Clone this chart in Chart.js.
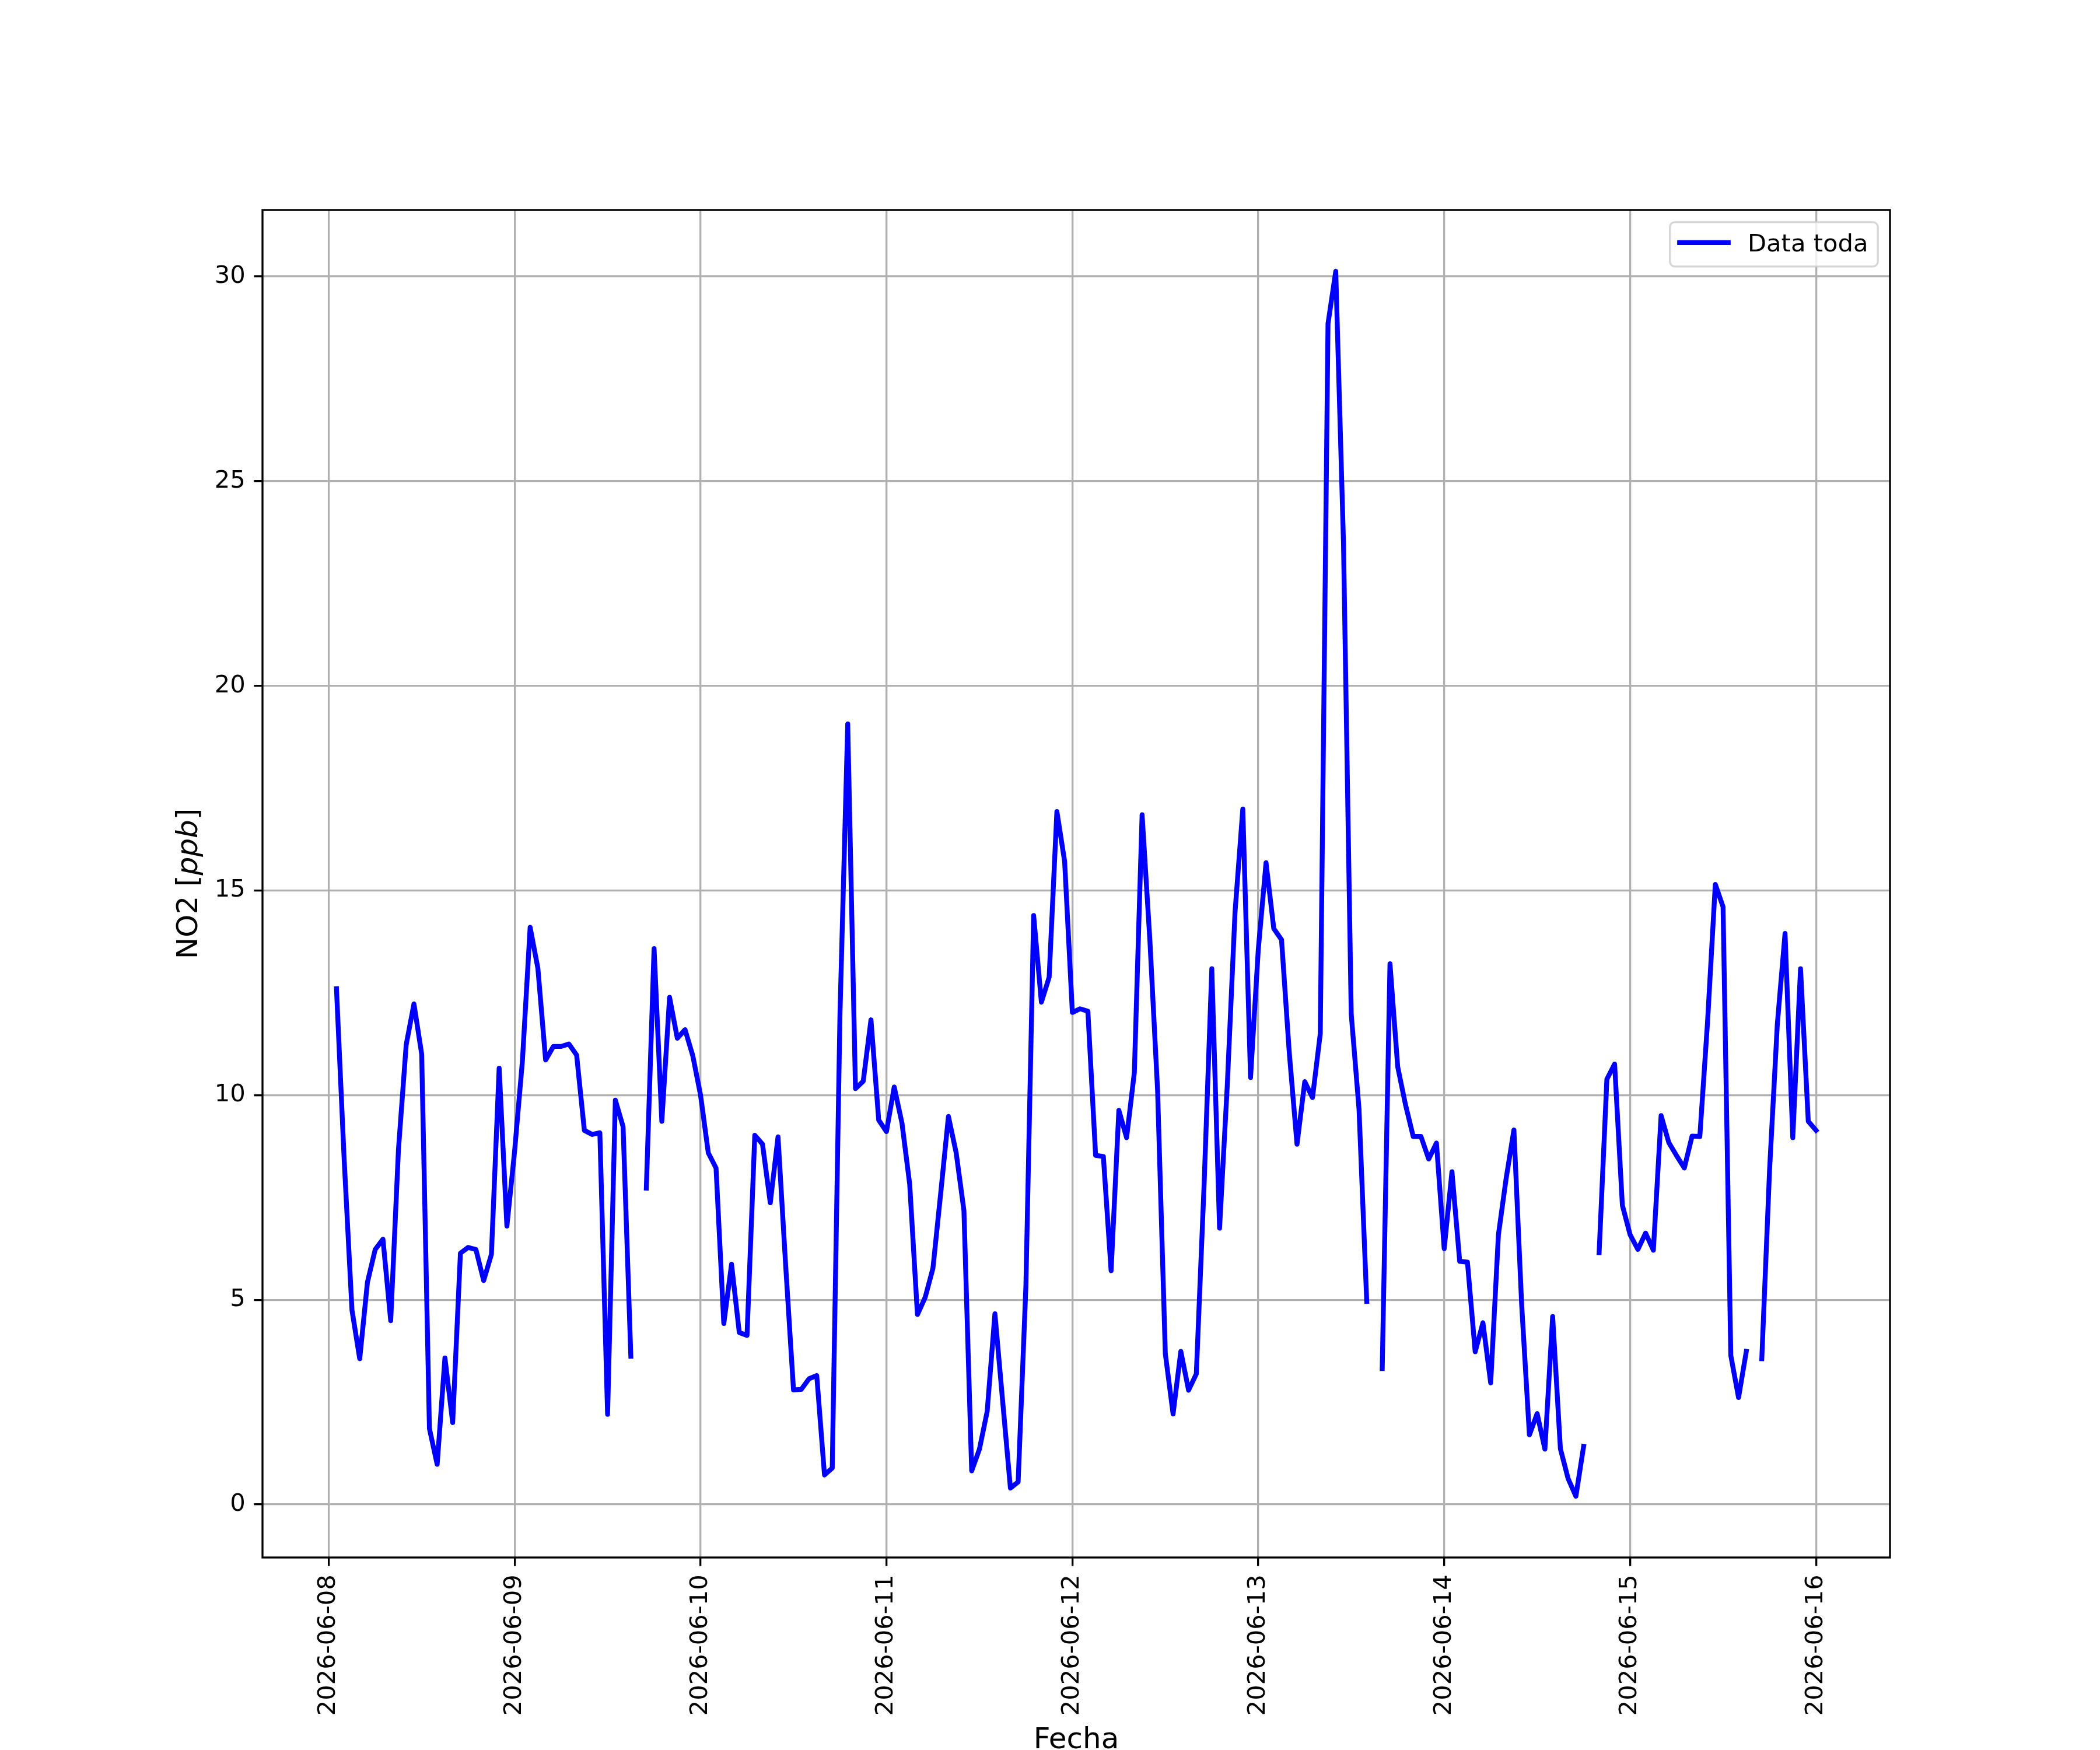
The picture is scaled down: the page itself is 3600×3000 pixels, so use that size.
<!DOCTYPE html>
<html>
<head>
<meta charset="utf-8">
<title>NO2</title>
<script src="https://cdn.jsdelivr.net/npm/chart.js@4.4.1/dist/chart.umd.min.js"></script>
<style>
    html, body { margin: 0; padding: 0; background: #ffffff; }
    canvas { display: block; }
</style>
</head>
<body>
<canvas id="no2Chart" width="3600" height="3000"></canvas>
<script>
// Etiquetas de los dias (una por tick del eje x, cada 24 h)
const dayLabels = ["2026-06-08", "2026-06-09", "2026-06-10", "2026-06-11", "2026-06-12",
                   "2026-06-13", "2026-06-14", "2026-06-15", "2026-06-16"];
const yTicks = [0, 5, 10, 15, 20, 25, 30];

// Primera medicion: 2026-06-08 01:00 (horas desde 2026-06-08 00:00)
const firstHour = 1;

// NO2 horario [ppb], null = sin dato
const day08 = [12.6, 8.4, 4.75, 3.56, 5.43, 6.23, 6.48, 4.49, 8.67, 11.23, 12.23, 11.0,
               1.85, 0.98, 3.58, 2.0, 6.14, 6.28, 6.23, 5.47, 6.11, 10.66, 6.8];
const day09 = [8.64, 10.83, 14.1, 13.1, 10.86, 11.19, 11.19, 11.25, 10.98, 9.14, 9.04, 9.08,
               2.2, 9.88, 9.23, 3.62, null, 7.73, 13.58, 9.36, 12.39, 11.39, 11.6, 10.96];
const day10 = [10.0, 8.59, 8.22, 4.42, 5.87, 4.2, 4.13, 9.02, 8.8, 7.37, 8.98, 5.8,
               2.8, 2.81, 3.07, 3.15, 0.72, 0.89, 12.0, 19.07, 10.16, 10.34, 11.84, 9.39];
const day11 = [9.11, 10.2, 9.32, 7.82, 4.64, 5.06, 5.77, 7.6, 9.48, 8.59, 7.18, 0.82,
               1.35, 2.27, 4.66, 2.52, 0.4, 0.55, 5.34, 14.39, 12.27, 12.88, 16.93, 15.71];
const day12 = [12.02, 12.11, 12.05, 8.53, 8.5, 5.71, 9.63, 8.96, 10.55, 16.85, 13.8, 10.12,
               3.68, 2.21, 3.74, 2.79, 3.19, 7.79, 13.09, 6.75, 10.25, 14.48, 16.99, 10.43];
const day13 = [13.56, 15.68, 14.07, 13.8, 11.04, 8.8, 10.33, 9.94, 11.5, 28.85, 30.13, 23.49,
               11.98, 9.67, 4.96, null, 3.32, 13.21, 10.69, 9.77, 8.99, 8.99, 8.44, 8.83];
const day14 = [6.25, 8.13, 5.94, 5.92, 3.73, 4.44, 2.97, 6.59, 7.97, 9.15, 4.88, 1.7,
               2.22, 1.35, 4.59, 1.36, 0.63, 0.2, 1.42, null, 6.15, 10.39, 10.76, 7.31];
const day15 = [6.59, 6.23, 6.63, 6.21, 9.5, 8.84, 8.52, 8.22, 9.0, 8.99, 11.8, 15.15,
               14.6, 3.64, 2.61, 3.74, null, 3.56, 8.16, 11.72, 13.95, 8.96, 13.09, 9.36];
const day16 = [9.14];

const seriesLabel = "Data toda";
const xTitle = "Fecha";

// Estilo tipo matplotlib (300 dpi)
const PT = 300 / 72;
const FONT = "DejaVu Sans";
const TICK_FS = 10 * PT;
const LABEL_FS = 12 * PT;
const AREA = { left: 450, right: 3240, top: 360, bottom: 2670 };

function buildPoints() {
    const values = [].concat(day08, day09, day10, day11, day12, day13, day14, day15, day16);
    return values.map((v, i) => ({ x: firstHour + i, y: v }));
}

// Margenes automaticos de 5% como matplotlib
function paddedRange(vals) {
    const lo = Math.min(...vals), hi = Math.max(...vals);
    const m = (hi - lo) * 0.05;
    return [lo - m, hi + m];
}

const points = buildPoints();
const [xMin, xMax] = paddedRange(points.map(p => p.x));
const [yMin, yMax] = paddedRange(points.filter(p => p.y !== null).map(p => p.y));

// Marco, etiquetas de ejes y leyenda
const decorPlugin = {
    id: "decor",
    afterDraw(chart) {
        const ctx = chart.ctx;
        const a = chart.chartArea;
        ctx.save();

        // Marco de los ejes
        ctx.strokeStyle = "#000";
        ctx.lineWidth = 0.8 * PT;
        ctx.strokeRect(a.left, a.top, a.right - a.left, a.bottom - a.top);

        // Titulo eje x
        ctx.fillStyle = "#000";
        ctx.font = `${LABEL_FS}px "${FONT}"`;
        ctx.textAlign = "center";
        ctx.textBaseline = "alphabetic";
        ctx.fillText(xTitle, (a.left + a.right) / 2, 2997);

        // Titulo eje y: NO2 [ppb] con ppb en cursiva
        const parts = [["NO2 [", "normal"], ["ppb", "italic"], ["]", "normal"]];
        let total = 0;
        parts.forEach(p => {
            ctx.font = `${p[1]} ${LABEL_FS}px "${FONT}"`;
            total += ctx.measureText(p[0]).width;
        });
        ctx.translate(338, (a.top + a.bottom) / 2);
        ctx.rotate(-Math.PI / 2);
        ctx.textAlign = "left";
        let cx = -total / 2;
        parts.forEach(p => {
            ctx.font = `${p[1]} ${LABEL_FS}px "${FONT}"`;
            ctx.fillText(p[0], cx, 0);
            cx += ctx.measureText(p[0]).width;
        });
        ctx.restore();

        drawLegend(chart);
    }
};

function drawLegend(chart) {
    const ctx = chart.ctx;
    const a = chart.chartArea;
    const ds = chart.data.datasets[0];
    ctx.save();
    ctx.font = `${TICK_FS}px "${FONT}"`;
    const textW = ctx.measureText(ds.label).width;
    const pad = 0.4 * TICK_FS, handleLen = 2 * TICK_FS, gap = 0.8 * TICK_FS;
    const w = pad + handleLen + gap + textW + pad;
    const h = 76;
    const right = a.right - 0.5 * TICK_FS;
    const top = a.top + 0.5 * TICK_FS;
    const left = right - w;

    ctx.beginPath();
    ctx.roundRect(left, top, w, h, 0.2 * TICK_FS);
    ctx.fillStyle = "rgba(255,255,255,0.8)";
    ctx.fill();
    ctx.strokeStyle = "rgba(204,204,204,0.8)";
    ctx.lineWidth = 0.8 * PT;
    ctx.stroke();

    ctx.beginPath();
    ctx.moveTo(left + pad, top + 35);
    ctx.lineTo(left + pad + handleLen, top + 35);
    ctx.strokeStyle = ds.borderColor;
    ctx.lineWidth = ds.borderWidth;
    ctx.lineCap = "square";
    ctx.stroke();

    ctx.fillStyle = "#000";
    ctx.textAlign = "left";
    ctx.textBaseline = "alphabetic";
    ctx.fillText(ds.label, left + pad + handleLen + gap, top + 50);
    ctx.restore();
}

function gridOpts() {
    return {
        color: "#b0b0b0",
        lineWidth: 0.8 * PT,
        drawTicks: true,
        tickColor: "#000",
        tickWidth: 0.8 * PT,
        tickLength: 3.5 * PT
    };
}

function initChart() {
    Chart.defaults.font.family = FONT;
    Chart.defaults.color = "#000";
    const ctx = document.getElementById("no2Chart").getContext("2d");

    new Chart(ctx, {
        type: "line",
        data: {
            datasets: [{
                label: seriesLabel,
                data: points,
                borderColor: "#0000ff",
                borderWidth: 2 * PT,
                borderCapStyle: "square",
                borderJoinStyle: "round",
                pointRadius: 0,
                tension: 0,
                spanGaps: false,
                fill: false
            }]
        },
        options: {
            responsive: false,
            animation: false,
            devicePixelRatio: 1,
            layout: { padding: { left: 0, top: AREA.top, right: 3600 - AREA.right, bottom: 0 } },
            plugins: {
                legend: { display: false },
                tooltip: { enabled: false }
            },
            scales: {
                x: {
                    type: "linear",
                    min: xMin,
                    max: xMax,
                    grid: gridOpts(),
                    border: { display: false },
                    afterBuildTicks: scale => {
                        scale.ticks = dayLabels.map((d, i) => ({ value: i * 24 }));
                    },
                    afterFit: scale => { scale.height = 3000 - AREA.bottom; },
                    ticks: {
                        autoSkip: false,
                        minRotation: 90,
                        maxRotation: 90,
                        padding: 3.5 * PT,
                        font: { size: TICK_FS },
                        callback: value => dayLabels[Math.round(value / 24)]
                    }
                },
                y: {
                    type: "linear",
                    min: yMin,
                    max: yMax,
                    grid: gridOpts(),
                    border: { display: false },
                    afterBuildTicks: scale => {
                        scale.ticks = yTicks.map(v => ({ value: v }));
                    },
                    afterFit: scale => { scale.width = AREA.left; },
                    ticks: {
                        padding: 3.5 * PT,
                        font: { size: TICK_FS },
                        callback: value => String(value)
                    }
                }
            }
        },
        plugins: [decorPlugin]
    });
}

document.addEventListener("DOMContentLoaded", initChart);
</script>
</body>
</html>
